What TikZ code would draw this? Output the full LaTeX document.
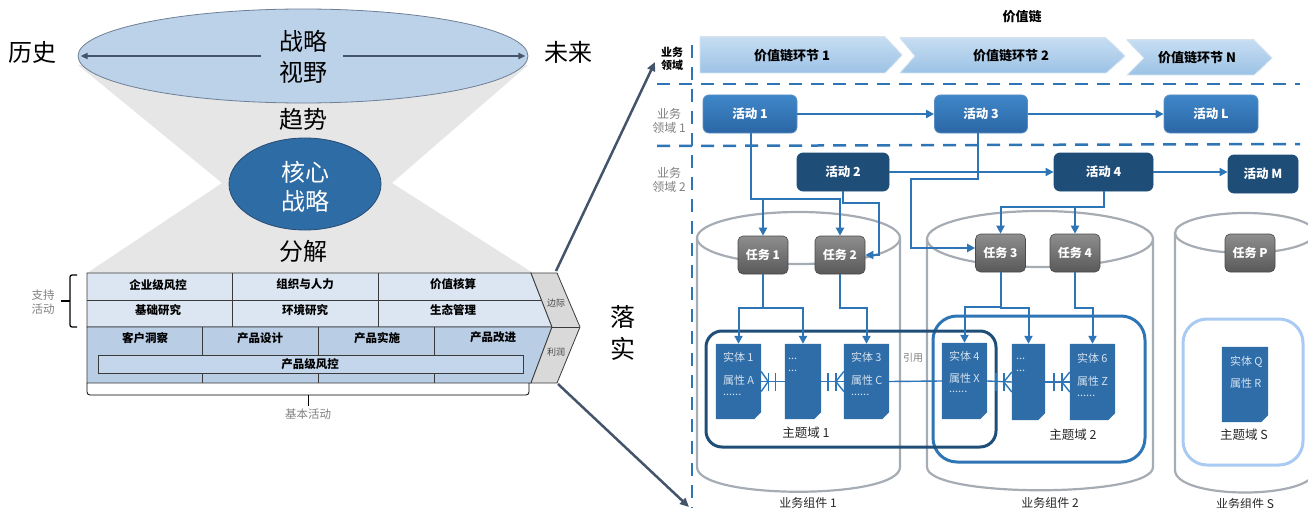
\documentclass[tikz,border=0pt]{standalone}
\usepackage{fontspec}
\setmainfont{Noto Sans CJK SC}
\usetikzlibrary{arrows.meta,shapes.geometric}
\definecolor{funnelgray}{HTML}{E6E6E6}
\definecolor{elllight}{HTML}{BCD2E9}
\definecolor{ellborder}{HTML}{6F7F95}
\definecolor{coreblue}{HTML}{2E6CA5}
\definecolor{coreborder}{HTML}{284B73}
\definecolor{slate}{HTML}{44546A}
\definecolor{supfill}{HTML}{DCE6F2}
\definecolor{prifill}{HTML}{B9CDE5}
\definecolor{innerfill}{HTML}{C4D6EC}
\definecolor{margingray}{HTML}{D9D9D9}
\definecolor{vcborder}{HTML}{3A3A3A}
\definecolor{dashblue}{HTML}{2E75B6}
\definecolor{lineblue}{HTML}{2E75B6}
\definecolor{actlt}{HTML}{3F87C9}
\definecolor{actlb}{HTML}{2B66A5}
\definecolor{actborder}{HTML}{5A8FC4}
\definecolor{actdark}{HTML}{1E4D78}
\definecolor{taskt}{HTML}{8E8E8E}
\definecolor{taskb}{HTML}{595959}
\definecolor{taskd}{HTML}{4A4A4A}
\definecolor{entblue}{HTML}{2E6DA8}
\definecolor{enttext}{HTML}{D4E2F1}
\definecolor{domone}{HTML}{1F4E79}
\definecolor{domtwo}{HTML}{2E75B6}
\definecolor{doms}{HTML}{A9CAF2}
\definecolor{cylgray}{HTML}{A6ACB3}
\definecolor{labelgray}{HTML}{808080}
\definecolor{chevtop}{HTML}{C6DDF2}
\definecolor{chevbot}{HTML}{9CC2E5}
\definecolor{chevborder}{HTML}{D3E5F5}
\definecolor{darktext}{HTML}{262626}
\begin{document}
\begin{tikzpicture}[x=1pt,y=-1pt,
 txt/.style={inner sep=0pt, font=\fontsize{#1}{#1}\selectfont},
 txtb/.style={inner sep=0pt, font=\fontsize{#1}{#1}\selectfont\bfseries},
 act/.style={rounded corners=6pt, minimum height=38pt, inner sep=0pt, text=white, font=\fontsize{12.5}{13}\selectfont\bfseries, top color=actlt, bottom color=actlb, draw=actborder, line width=0.8pt},
 actd/.style={rounded corners=6pt, minimum height=38pt, inner sep=0pt, text=white, font=\fontsize{12.5}{13}\selectfont\bfseries, fill=actdark, draw=actdark, line width=0.8pt},
 task/.style={rounded corners=5pt, minimum width=50pt, minimum height=38pt, inner sep=0pt, text=white, font=\fontsize{12}{12}\selectfont\bfseries, top color=taskt, bottom color=taskb, draw=taskd, line width=0.6pt},
 arr/.style={draw=lineblue, line width=2pt, -{Triangle[length=8pt,width=8pt]}},
 rel/.style={draw=lineblue, line width=1.4pt},
 dashl/.style={draw=dashblue, line width=2.5pt, dash pattern=on 13pt off 9pt},
 cyl/.style={draw=cylgray, line width=2.2pt},
 vc/.style={draw=vcborder, line width=0.8pt},
 ent/.style={minimum height=75pt, inner sep=0pt},
 enttxt/.style={inner sep=0pt, anchor=west, text=enttext, font=\fontsize{11}{11}\selectfont},
 dom/.style={line width=3pt, inner sep=0pt},
 sarr/.style={draw=slate, line width=2.5pt, -{Triangle[length=9pt,width=8pt]}},
 chev/.style={top color=chevtop, bottom color=chevbot, draw=chevborder, line width=0.8pt},
]
\useasboundingbox (0,0) rectangle (1308,508);
% ---------- left: strategy funnel ----------
\fill[funnelgray] (78,65) -- (222,183) -- (87,273) -- (533,273) -- (392,183) -- (528,65) -- cycle;
\node[ellipse, draw=ellborder, line width=0.8pt, fill=elllight, minimum width=450pt, minimum height=94pt, inner sep=0pt] (vision) at (303,56) {};
\node[txt=24] (zl1) at (303,41) {战略};
\node[txt=24] (sy1) at (303,72) {视野};
\draw[draw=slate, line width=2pt, -{Triangle[length=7pt,width=6pt]}] ([xshift=-42pt]vision.center) -- ([xshift=3pt]vision.west);
\draw[draw=slate, line width=2pt, -{Triangle[length=7pt,width=6pt]}] ([xshift=40pt]vision.center) -- ([xshift=-3pt]vision.east);
\node[txt=24] (hist) at (33,52) {历史};
\node[txt=24] (futu) at (568,52) {未来};
\node[txt=24] (trend) at (303,119) {趋势};
\node[ellipse, draw=coreborder, line width=0.8pt, fill=coreblue, minimum width=152pt, minimum height=92pt, inner sep=0pt] (core) at (305,184) {};
\node[txt=24, text=white] (hx) at (305,172) {核心};
\node[txt=24, text=white] (zl2) at (305,201) {战略};
\node[txt=24] (fj) at (303,251) {分解};
% ---------- value chain ----------
\filldraw[vc, fill=supfill] (87,273) -- (531,273) -- (552,327) -- (87,327) -- cycle;
\filldraw[vc, fill=prifill] (87,327) -- (552,327) -- (531,383) -- (87,383) -- cycle;
\draw[vc] (87,300) -- (541.5,300);
\draw[vc] (232,273) -- (232,327);
\draw[vc] (378,273) -- (378,327);
\draw[vc] (202,327) -- (202,383);
\draw[vc] (318,327) -- (318,383);
\draw[vc] (434,327) -- (434,383);
\filldraw[vc, fill=innerfill] (98,355) rectangle (523,373);
\filldraw[vc, fill=margingray] (531,273) -- (557,273) -- (580,327) -- (557,383) -- (531,383) -- (552,327) -- cycle;
\draw[vc] (552,327) -- (580,327);
\node[txtb=11.5] (s1) at (158,285) {企业级风控};
\node[txtb=11.5] (s2) at (305,284) {组织与人力};
\node[txtb=11.5] (s3) at (453,284) {价值核算};
\node[txtb=11.5] (s4) at (158,310) {基础研究};
\node[txtb=11.5] (s5) at (305,310) {环境研究};
\node[txtb=11.5] (s6) at (453,310) {生态管理};
\node[txtb=11.5] (p1) at (145,338) {客户洞察};
\node[txtb=11.5] (p2) at (260,338) {产品设计};
\node[txtb=11.5] (p3) at (377,338) {产品实施};
\node[txtb=11.5] (p4) at (493,337) {产品改进};
\node[txtb=11.5] (p5) at (310,364) {产品级风控};
\node[txt=9, text=darktext!85] (mg1) at (556,303) {边际};
\node[txt=9, text=darktext!85] (mg2) at (556,352) {利润};
\draw[line width=1.3pt, rounded corners=2pt] (77,275) -- (70,275) -- (70,327) -- (77,327);
\draw[line width=1.3pt] (70,301) -- (61,301);
\node[inner sep=0pt, align=center, text=labelgray, font=\fontsize{11.5}{14}\selectfont] (zc) at (43,302) {支持\\活动};
\draw[line width=0.8pt, rounded corners=3pt] (87,383) -- (87,395) -- (529,395) -- (529,383);
\draw[line width=0.8pt] (308,395) -- (308,406);
\node[txt=11.5, text=labelgray] (jb) at (308,414) {基本活动};
\node[txt=25] (luo) at (623,317) {落};
\node[txt=25] (shi) at (623,349) {实};
\coordinate (vtop) at (556,271);
\coordinate (vbot) at (558,384);
\coordinate (tipA) at (655,62);
\coordinate (tipB) at (689,507);
\draw[sarr] (vtop) -- (tipA);
\draw[sarr] (vbot) -- (tipB);
% ---------- right: value chain header ----------
\node[txtb=13] (vct) at (1022,17) {价值链};
\filldraw[chev] (700,37) -- (885,37) -- (902,55) -- (885,73) -- (700,73) -- cycle;
\filldraw[chev] (900,38) -- (1106,38) -- (1125,56) -- (1106,73) -- (900,73) -- (915,56) -- cycle;
\filldraw[chev] (1127,40) -- (1254,40) -- (1272,58) -- (1254,75) -- (1127,75) -- (1144,58) -- cycle;
\node[txtb=13] (c1) at (792,56) {价值链环节 1};
\node[txtb=13] (c2) at (1011,56) {价值链环节 2};
\node[txtb=13] (cn) at (1197,58) {价值链环节 N};
\draw[dashl] (692,45) -- (692,508);
\draw[dashl] (657,84) -- (1300,84);
\draw[dashl] (657,146) -- (1300,144);
\node[inner sep=0pt, align=center, font=\fontsize{11}{12.5}\selectfont\bfseries] (ly0) at (672,59) {业务\\领域};
\node[inner sep=0pt, align=center, text=labelgray, font=\fontsize{12}{13.5}\selectfont] (ly1) at (669,121) {业务\\领域 1};
\node[inner sep=0pt, align=center, text=labelgray, font=\fontsize{12}{13.5}\selectfont] (ly2) at (669,180) {业务\\领域 2};
% ---------- cylinders ----------
\draw[cyl] (798.5,238) ellipse [x radius=101.5, y radius=26];
\draw[cyl] (697,238) -- (697,467) .. controls (697,500) and (900,500) .. (900,467) -- (900,238);
\draw[cyl] (1040,239) ellipse [x radius=113, y radius=28];
\draw[cyl] (927,239) -- (927,467) .. controls (927,498) and (1153,498) .. (1153,467) -- (1153,239);
\draw[cyl] (1245,233) ellipse [x radius=70, y radius=20];
\draw[cyl] (1175,233) -- (1175,470) .. controls (1175,500) and (1315,500) .. (1315,470) -- (1315,233);
\node[txt=12, text=darktext] (bc1) at (808,503) {业务组件 1};
\node[txt=12, text=darktext] (bc2) at (1050,503) {业务组件 2};
\node[txt=12, text=darktext] (bcs) at (1245,504) {业务组件 S};
% ---------- subject domains ----------
\node[dom, draw=domtwo, rounded corners=24pt, minimum width=212pt, minimum height=146pt] (D2) at (1039,389) {};
\node[dom, draw=domone, rounded corners=16pt, minimum width=290pt, minimum height=116pt] (D1) at (851,389) {};
\node[dom, draw=doms, rounded corners=24pt, minimum width=120pt, minimum height=146pt] (DS) at (1243,392) {};
\node[txt=12.5, text=darktext] (D1l) at (806,433) {主题域 1};
\node[txt=12.5, text=darktext] (D2l) at (1073,435) {主题域 2};
\node[txt=12.5, text=darktext] (DSl) at (1244,435) {主题域 S};
% ---------- entities ----------
\node[ent, minimum width=45pt] (e1) at (738.5,381.5) {};
\node[ent, minimum width=36pt] (e2) at (803,381.5) {};
\node[ent, minimum width=45pt] (e3) at (866.5,381.5) {};
\node[ent, minimum width=45pt, minimum height=76pt] (e4) at (964.5,381) {};
\node[ent, minimum width=33pt, minimum height=76pt] (e5) at (1028.5,382) {};
\node[ent, minimum width=45pt, minimum height=76pt] (e6) at (1092.5,382) {};
\node[ent, minimum width=46pt] (eQ) at (1245,384.5) {};
\foreach \n in {e1,e2,e3,e4,e5,e6,eQ}{
  \fill[entblue] (\n.north west) -- (\n.north east) -- ([yshift=7pt]\n.south east) -- ([xshift=-7pt]\n.south east) -- (\n.south west) -- cycle;
}
\node[enttxt] (e1a) at ([xshift=7pt,yshift=-13pt]e1.north west) {实体 1};
\node[enttxt] (e1b) at ([xshift=7pt,yshift=-37pt]e1.north west) {属性 A};
\node[enttxt] (e1c) at ([xshift=7pt,yshift=-51pt]e1.north west) {......};
\node[enttxt] (e2a) at ([xshift=3pt,yshift=-15pt]e2.north west) {...};
\node[enttxt] (e2b) at ([xshift=3pt,yshift=-27pt]e2.north west) {...};
\node[enttxt] (e3a) at ([xshift=7pt,yshift=-13pt]e3.north west) {实体 3};
\node[enttxt] (e3b) at ([xshift=7pt,yshift=-37pt]e3.north west) {属性 C};
\node[enttxt] (e3c) at ([xshift=7pt,yshift=-51pt]e3.north west) {......};
\node[enttxt] (e4a) at ([xshift=7pt,yshift=-13pt]e4.north west) {实体 4};
\node[enttxt] (e4b) at ([xshift=7pt,yshift=-36pt]e4.north west) {属性 X};
\node[enttxt] (e4c) at ([xshift=7pt,yshift=-49pt]e4.north west) {......};
\node[enttxt] (e5a) at ([xshift=4pt,yshift=-15pt]e5.north west) {...};
\node[enttxt] (e5b) at ([xshift=4pt,yshift=-27pt]e5.north west) {...};
\node[enttxt] (e6a) at ([xshift=7pt,yshift=-14pt]e6.north west) {实体 6};
\node[enttxt] (e6b) at ([xshift=7pt,yshift=-38pt]e6.north west) {属性 Z};
\node[enttxt] (e6c) at ([xshift=7pt,yshift=-52pt]e6.north west) {......};
\node[enttxt] (eQa) at ([xshift=8pt,yshift=-15pt]eQ.north west) {实体 Q};
\node[enttxt] (eQb) at ([xshift=8pt,yshift=-37pt]eQ.north west) {属性 R};
% relations
\draw[rel] (e1.east) -- (e2.west);
\draw[rel] ([yshift=10pt]e1.east) -- ([xshift=7pt]e1.east) -- ([yshift=-10pt]e1.east);
\draw[rel] ([xshift=7pt,yshift=9pt]e1.east) -- ([xshift=7pt,yshift=-9pt]e1.east);
\draw[rel] ([xshift=14pt,yshift=9pt]e1.east) -- ([xshift=14pt,yshift=-9pt]e1.east);
\foreach \a/\b in {e2/e3,e4/e5,e5/e6}{
  \draw[rel] (\a.east) -- (\b.west);
  \draw[rel] ([yshift=10pt]\b.west) -- ([xshift=-8pt]\b.west) -- ([yshift=-10pt]\b.west);
  \draw[rel] ([xshift=-8pt,yshift=9pt]\b.west) -- ([xshift=-8pt,yshift=-9pt]\b.west);
  \draw[rel] ([xshift=-16pt,yshift=9pt]\b.west) -- ([xshift=-16pt,yshift=-9pt]\b.west);
}
\draw[rel] (e3.east) -- (e4.west);
\node[txt=10, text=labelgray] (yy) at (913,358) {引用};
% ---------- activities ----------
\node[act, minimum width=94pt] (a1) at (750,114) {活动 1};
\node[act, minimum width=93pt] (a3) at (981,114) {活动 3};
\node[act, minimum width=94pt] (aL) at (1211,114) {活动 L};
\node[actd, minimum width=92pt] (a2) at (843,172) {活动 2};
\node[actd, minimum width=99pt] (a4) at (1103.5,172) {活动 4};
\node[actd, minimum width=70pt] (aM) at (1263,174) {活动 M};
% ---------- tasks ----------
\node[task] (t1) at (763,255) {任务 1};
\node[task] (t2) at (840,255) {任务 2};
\node[task] (t3) at (1000.5,253) {任务 3};
\node[task] (t4) at (1075,253) {任务 4};
\node[task] (tP) at (1250,253) {任务 P};
% ---------- connectors ----------
\draw[arr] (a1.east) -- (a3.west);
\draw[arr] (a3.east) -- (aL.west);
\draw[arr] (a2.east) -- (a4.west);
\draw[arr] (a4.east) -- (a4.east -| aM.west);
\draw[arr] ([xshift=1pt]a1.south) |- ([yshift=37pt]t1.north) -- (t1.north);
\draw[arr] ([xshift=1pt]a1.south) |- ([yshift=37pt]t2.north) -- (t2.north);
\draw[arr] (a2.south) -- ++(0,12) -- ++(36,0) |- (t2.east);
\draw[arr] ([xshift=-3pt]a3.south) -- ++(0,46) -- ++(-67,0) |- ([yshift=5pt]t3.west);
\draw[arr] (a4.south) |- ([yshift=27pt]t3.north) -- (t3.north);
\draw[arr] (a4.south) |- ([yshift=27pt]t4.north) -- (t4.north);
\draw[arr] (t1.south) |- ([yshift=36pt]e1.north) -- (e1.north);
\draw[arr] (t1.south) |- ([yshift=36pt]e2.north) -- (e2.north);
\draw[arr] (t2.south) |- ([yshift=36pt]e3.north) -- (e3.north);
\draw[arr] (t3.south) |- ([yshift=36pt]e4.north) -- (e4.north);
\draw[arr] (t3.south) |- ([yshift=36pt]e5.north) -- (e5.north);
\draw[arr] (t4.south) |- ([yshift=36pt]e6.north) -- (e6.north);
\end{tikzpicture}
\end{document}
